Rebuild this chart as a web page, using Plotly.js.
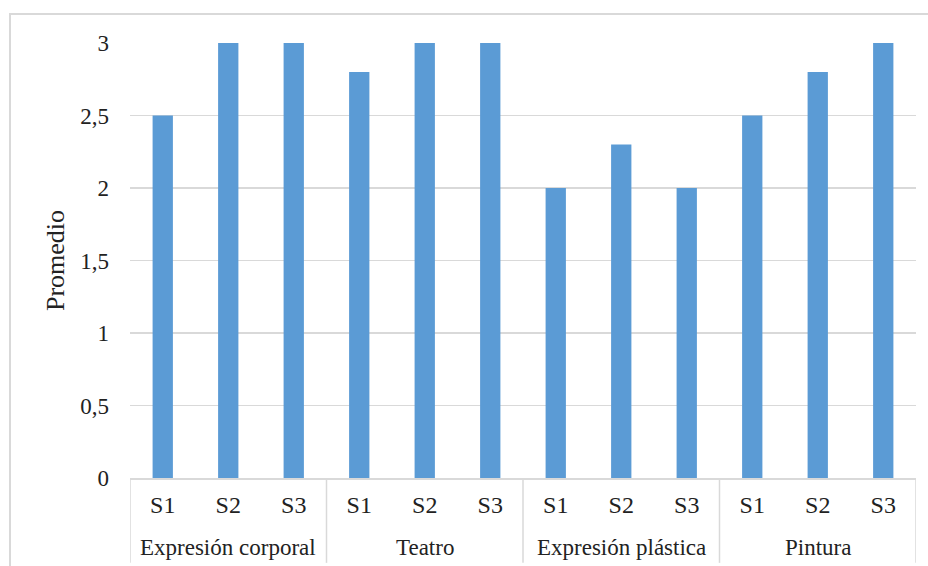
<!DOCTYPE html>
<html>
<head>
<meta charset="utf-8">
<script src="https://cdn.plot.ly/plotly-3.0.1.min.js"></script>
<style>
  html, body { margin: 0; padding: 0; background: #fff; overflow: hidden; }
  #chart { position: absolute; left: 0; top: 0; width: 928px; height: 566px; }
  #frame { position: absolute; left: 9px; top: 13px; width: 1200px; height: 1200px;
           border-left: 2px solid #d9d9d9; border-top: 2px solid #d9d9d9; pointer-events: none; }
</style>
</head>
<body>
<div id="chart"></div>
<div id="frame"></div>
<script>
// Average score per activity and session
const activities = ['Expresión corporal', 'Teatro', 'Expresión plástica', 'Pintura'];
const sessions = ['S1', 'S2', 'S3'];
const promedio = [
  2.5, 3, 3,     // Expresión corporal
  2.8, 3, 3,     // Teatro
  2, 2.3, 2,     // Expresión plástica
  2.5, 2.8, 3    // Pintura
];
const yTicks = [0, 0.5, 1, 1.5, 2, 2.5, 3];

// one slot per (activity, session) pair
const slots = [];
const sessionLabels = [];
activities.forEach((a, gi) => sessions.forEach((s, si) => {
  slots.push(gi * sessions.length + si);
  sessionLabels.push(s);
}));

const serif = 'Liberation Serif, Times New Roman, serif';
const ink = '#222222';
const grid = '#d9d9d9';
const n = sessions.length;

// activity names centred under their group of sessions
const groupAnnotations = activities.map((a, gi) => ({
  text: a,
  xref: 'x', yref: 'paper',
  x: gi * n + (n - 1) / 2,
  y: -0.16,
  xanchor: 'center', yanchor: 'middle',
  showarrow: false,
  font: { family: serif, size: 23, color: ink }
}));

// vertical dividers at the group boundaries, through both label rows
const dividers = [];
for (let gi = 0; gi <= activities.length; gi++) {
  dividers.push({
    type: 'line', xref: 'x', yref: 'paper',
    x0: gi * n - 0.5, x1: gi * n - 0.5,
    y0: 0, y1: -0.195,
    line: { color: grid, width: 1.5 }
  });
}

Plotly.newPlot('chart', [{
  type: 'bar',
  x: slots,
  y: promedio,
  marker: { color: '#5b9bd5' },
  hoverinfo: 'skip'
}], {
  width: 928,
  height: 566,
  margin: { l: 130, r: 12, t: 43, b: 88, pad: 0 },
  paper_bgcolor: '#fff',
  plot_bgcolor: '#fff',
  separators: ',.',
  bargap: 0.69,
  showlegend: false,
  font: { family: serif, size: 23, color: ink },
  xaxis: {
    range: [-0.5, slots.length - 0.5],
    tickvals: slots,
    ticktext: sessionLabels,
    tickfont: { family: serif, size: 24, color: ink },
    ticklabelstandoff: 5,
    showline: true,
    linecolor: grid,
    linewidth: 1.5,
    showgrid: false,
    zeroline: false,
    ticks: ''
  },
  yaxis: {
    range: [0, 3],
    tickvals: yTicks,
    tickfont: { family: serif, size: 23, color: ink },
    showgrid: true,
    gridcolor: grid,
    gridwidth: 1.5,
    zeroline: false,
    showline: false,
    ticks: '',
    ticklabelstandoff: 20,
    title: { text: 'Promedio', font: { family: serif, size: 26, color: ink }, standoff: 8 }
  },
  annotations: groupAnnotations,
  shapes: dividers
}, { staticPlot: true });
</script>
</body>
</html>
